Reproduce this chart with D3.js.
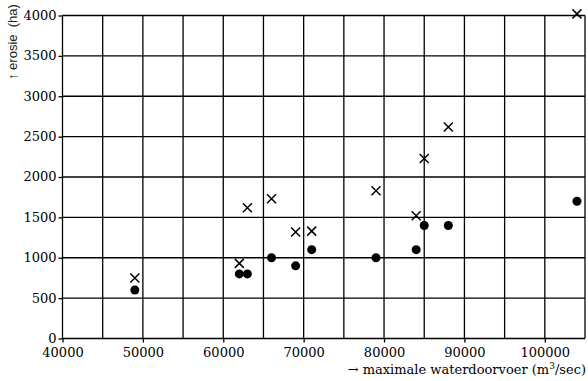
<!DOCTYPE html>
<html>
<head>
<meta charset="utf-8">
<script src="https://cdn.jsdelivr.net/npm/d3@7"></script>
<style>
  body { margin: 0; background: #fff; }
  svg { display: block; }
  .serif { font-family: "DejaVu Serif"; font-size: 13px; fill: #000; }
  .sans { font-family: "Liberation Sans"; font-size: 13px; fill: #222; white-space: pre; }
</style>
</head>
<body>
<div id="chart"></div>
<script>
var svgWidth = 588;
var svgHeight = 381;

// discharge (m3/sec) and erosion (ha)
var discharge = [49000, 62000, 63000, 66000, 69000, 71000, 79000, 84000, 85000, 88000, 104000];
var erosionCross = [750, 930, 1620, 1730, 1320, 1330, 1830, 1520, 2230, 2620, 4020];
var erosionDot = [600, 800, 800, 1000, 900, 1100, 1000, 1100, 1400, 1400, 1700];

var xTicks = [40000, 50000, 60000, 70000, 80000, 90000, 100000];
var yTicks = [0, 500, 1000, 1500, 2000, 2500, 3000, 3500, 4000];

var svg = d3.select('#chart')
  .append('svg')
  .attr('width', svgWidth)
  .attr('height', svgHeight);

var xScale = d3.scaleLinear()
  .domain([40000, 105000])
  .range([62.5, 585]);

var yScale = d3.scaleLinear()
  .domain([0, 4000])
  .range([338.5, 15.5]);

// grid
var xGrid = d3.range(40000, 105001, 5000);
svg.append('g').selectAll('line')
  .data(xGrid)
  .enter()
  .append('line')
  .attr('x1', d => xScale(d))
  .attr('x2', d => xScale(d))
  .attr('y1', yScale(0))
  .attr('y2', yScale(4000))
  .attr('stroke', '#000')
  .attr('stroke-width', 1.3);

svg.append('g').selectAll('line')
  .data(yTicks)
  .enter()
  .append('line')
  .attr('x1', xScale(40000))
  .attr('x2', xScale(105000))
  .attr('y1', d => yScale(d))
  .attr('y2', d => yScale(d))
  .attr('stroke', '#000')
  .attr('stroke-width', 1.3);

// axes
var bottomAxis = d3.axisBottom(xScale)
  .tickValues(xTicks)
  .tickSize(4)
  .tickPadding(5)
  .tickFormat(d3.format('d'));

var leftAxis = d3.axisLeft(yScale)
  .tickValues(yTicks)
  .tickSize(4)
  .tickPadding(2)
  .tickFormat(d3.format('d'));

var gx = svg.append('g')
  .attr('transform', `translate(0, ${yScale(0)})`)
  .call(bottomAxis);
gx.select('.domain').remove();

var gy = svg.append('g')
  .attr('transform', `translate(${xScale(40000)}, 0)`)
  .call(leftAxis);
gy.select('.domain').remove();
gy.selectAll('.tick text').attr('dy', '0.3em');

svg.selectAll('.tick line').attr('stroke', '#000').attr('stroke-width', 1.3);
svg.selectAll('.tick text').attr('class', 'serif');

// dots
svg.append('g').selectAll('circle')
  .data(discharge)
  .enter()
  .append('circle')
  .attr('cx', d => xScale(d))
  .attr('cy', (d, i) => yScale(erosionDot[i]))
  .attr('r', 4.5)
  .attr('fill', '#000');

// crosses
var c = 4.5;
svg.append('g').selectAll('path')
  .data(discharge)
  .enter()
  .append('path')
  .attr('d', function(d, i) {
    var x = xScale(d), y = yScale(erosionCross[i]);
    return `M${x - c},${y - c}L${x + c},${y + c}M${x - c},${y + c}L${x + c},${y - c}`;
  })
  .attr('stroke', '#000')
  .attr('stroke-width', 1.5)
  .attr('fill', 'none');

// axis labels
var xLabel = svg.append('text')
  .attr('class', 'serif')
  .attr('x', 586)
  .attr('y', 374)
  .attr('text-anchor', 'end');
xLabel.append('tspan').text('\u2192 maximale waterdoorvoer (m');
xLabel.append('tspan').attr('dy', -5).style('font-size', '9px').text('3');
xLabel.append('tspan').attr('dy', 5).text('/sec)');

svg.append('text')
  .attr('class', 'sans')
  .attr('transform', 'translate(17, 80) rotate(-90)')
  .attr('text-anchor', 'start')
  .text('\u2191 erosie  (ha)');
</script>
</body>
</html>
